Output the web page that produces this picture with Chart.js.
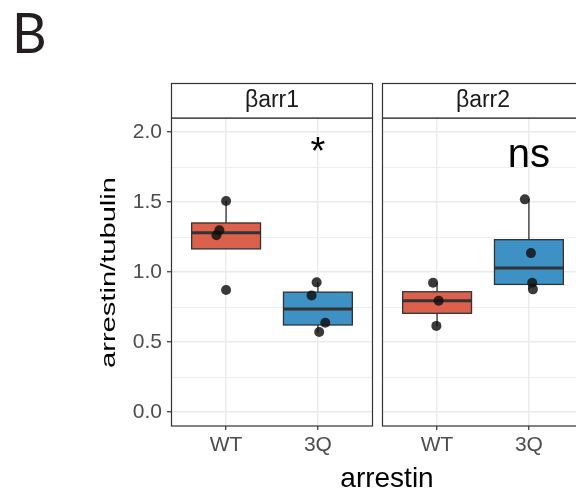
<!DOCTYPE html>
<html>
<head>
<meta charset="utf-8">
<script src="https://cdn.jsdelivr.net/npm/chart.js@4.4.1/dist/chart.umd.min.js"></script>
<style>
html, body { margin: 0; padding: 0; width: 576px; height: 491px; overflow: hidden; background: #fff; }
#wrap { position: relative; width: 576px; height: 491px; overflow: hidden; }
#c1 { position: absolute; left: 0; top: 0; }
#c2 { position: absolute; left: 376px; top: 0; }
#tag { position: absolute; left: 12px; top: 3px; font: 57px Lato, sans-serif; line-height: 57px; color: #231F20; transform: scaleX(0.94); transform-origin: left top; }
#xtitle { position: absolute; left: 287px; width: 200px; top: 464px; text-align: center; font: 28px "Liberation Sans", Arial, sans-serif; line-height: 28px; color: #000; }
</style>
</head>
<body>
<div id="wrap">
  <div id="tag">B</div>
  <canvas id="c1" width="380" height="491"></canvas>
  <canvas id="c2" width="216" height="491"></canvas>
  <div id="xtitle">arrestin</div>
</div>
<script>
// data
const categories = ['WT', '3Q'];
const panelNames = ['βarr1', 'βarr2'];

const arr1WT = [1.507, 1.298, 1.263, 0.871];
const arr1Q3 = [0.926, 0.833, 0.638, 0.572];
const arr2WT = [0.923, 0.795, 0.615];
const arr2Q3 = [1.519, 1.135, 0.923, 0.876];

// jitter van de punten (in categorie-eenheden)
const arr1WTjit = [0.0, -0.073, -0.105, 0.0];
const arr1Q3jit = [-0.014, -0.069, 0.08, 0.014];
const arr2WTjit = [-0.044, 0.017, -0.008];
const arr2Q3jit = [-0.044, 0.022, 0.036, 0.044];

const yMajor = [0, 0.5, 1.0, 1.5, 2.0];
const yMinor = [0.25, 0.75, 1.25, 1.75];
const sigLabels = ['*', 'ns'];
const sigY = [1.77, 1.75];

const boxColors = ['#DB614D', '#3D91C5'];

Chart.defaults.font.family = '"Liberation Sans", Arial, sans-serif';

function quant(s, p) {
    const h = (s.length - 1) * p;
    const lo = Math.floor(h);
    const hi = Math.min(lo + 1, s.length - 1);
    return s[lo] + (h - lo) * (s[hi] - s[lo]);
}

function boxStats(vals) {
    const s = [...vals].sort((a, b) => a - b);
    const q1 = quant(s, 0.25), med = quant(s, 0.5), q3 = quant(s, 0.75);
    const iqr = q3 - q1;
    const inside = s.filter(v => v >= q1 - 1.5 * iqr && v <= q3 + 1.5 * iqr);
    return { q1, med, q3, lo: inside[0], hi: inside[inside.length - 1] };
}

const panelPlugin = {
    id: 'panel',
    beforeDatasetsDraw(chart) {
        const { ctx, scales: { x, y } } = chart;
        const groups = chart.options.plugins.panel.groups;
        groups.forEach((vals, i) => {
            const st = boxStats(vals);
            const xc = x.getPixelForValue(i + 1);
            const xl = x.getPixelForValue(i + 1 - 0.375);
            const xr = x.getPixelForValue(i + 1 + 0.375);
            ctx.save();
            ctx.strokeStyle = '#333333';
            ctx.lineWidth = 1.3;
            ctx.beginPath();
            ctx.moveTo(xc, y.getPixelForValue(st.q3));
            ctx.lineTo(xc, y.getPixelForValue(st.hi));
            ctx.moveTo(xc, y.getPixelForValue(st.q1));
            ctx.lineTo(xc, y.getPixelForValue(st.lo));
            ctx.stroke();
            const yt = y.getPixelForValue(st.q3), yb = y.getPixelForValue(st.q1);
            ctx.fillStyle = boxColors[i];
            ctx.fillRect(xl, yt, xr - xl, yb - yt);
            ctx.strokeRect(xl, yt, xr - xl, yb - yt);
            ctx.lineWidth = 3;
            const ym = y.getPixelForValue(st.med);
            ctx.beginPath();
            ctx.moveTo(xl, ym);
            ctx.lineTo(xr, ym);
            ctx.stroke();
            ctx.restore();
        });
    },
    afterDraw(chart) {
        const { ctx, chartArea: a, scales: { x, y } } = chart;
        const o = chart.options.plugins.panel;
        ctx.save();
        // significantie label
        ctx.fillStyle = '#000';
        ctx.textAlign = 'center';
        ctx.textBaseline = 'alphabetic';
        ctx.font = (o.index === 0 ? '38px' : '40px') + ' "Liberation Sans", Arial, sans-serif';
        ctx.fillText(sigLabels[o.index], x.getPixelForValue(2), y.getPixelForValue(sigY[o.index]));
        // paneelrand
        ctx.strokeStyle = '#333333';
        ctx.lineWidth = 1.2;
        ctx.strokeRect(a.left + 0.5, a.top, a.right - a.left - 1, a.bottom - a.top);
        // strip
        ctx.fillStyle = '#fff';
        ctx.fillRect(a.left + 0.5, 83.5, a.right - a.left - 1, a.top - 83.5);
        ctx.strokeRect(a.left + 0.5, 83.5, a.right - a.left - 1, a.top - 83.5);
        ctx.fillStyle = '#1A1A1A';
        ctx.font = '23px "Liberation Sans", Arial, sans-serif';
        ctx.textBaseline = 'middle';
        ctx.fillText(panelNames[o.index], (a.left + a.right) / 2, 101);
        // y-as titel
        if (o.index === 0) {
            ctx.translate(115, 272.5);
            ctx.rotate(-Math.PI / 2);
            ctx.scale(1.42, 1);
            ctx.fillStyle = '#000';
            ctx.textBaseline = 'alphabetic';
            ctx.font = '20.5px "Liberation Sans", Arial, sans-serif';
            ctx.fillText('arrestin/tubulin', 0, 0);
        }
        ctx.restore();
    }
};

function makeChart(id, index, wt, wtJit, q3, q3Jit, padding) {
    const pts = wt.map((v, i) => ({ x: 1 + wtJit[i], y: v }))
        .concat(q3.map((v, i) => ({ x: 2 + q3Jit[i], y: v })));
    const showY = index === 0;
    return new Chart(document.getElementById(id), {
        type: 'scatter',
        data: {
            datasets: [{
                data: pts,
                backgroundColor: 'rgba(15,15,15,0.82)',
                borderWidth: 0,
                pointRadius: 5
            }]
        },
        options: {
            responsive: false,
            animation: false,
            layout: { padding: padding },
            plugins: {
                legend: { display: false },
                tooltip: { enabled: false },
                panel: { index: index, groups: [wt, q3] }
            },
            scales: {
                x: {
                    type: 'linear',
                    min: 0.4,
                    max: 2.6,
                    afterBuildTicks: s => { s.ticks = [{ value: 1 }, { value: 2 }]; },
                    afterFit: s => { s.height = 40; },
                    ticks: {
                        callback: v => categories[v - 1],
                        font: { size: 21 },
                        color: '#4D4D4D',
                        padding: 3,
                        maxRotation: 0
                    },
                    grid: { color: '#EBEBEB', lineWidth: 1.5, tickLength: 4, tickColor: '#333333', tickWidth: 1.2 },
                    border: { display: false }
                },
                y: {
                    min: -0.1,
                    max: 2.1,
                    afterBuildTicks: s => {
                        s.ticks = [...yMajor, ...yMinor].sort((a, b) => a - b).map(v => ({ value: v }));
                    },
                    afterFit: s => { s.width = showY ? 171 : 0; },
                    ticks: {
                        display: showY,
                        callback: v => yMajor.includes(v) ? v.toFixed(1) : '',
                        font: { size: 21 },
                        color: '#4D4D4D',
                        padding: 5,
                        autoSkip: false
                    },
                    grid: {
                        color: '#EBEBEB',
                        lineWidth: c => yMajor.includes(c.tick.value) ? 1.5 : 0.8,
                        drawTicks: showY,
                        tickLength: 4,
                        tickWidth: 1.2,
                        tickColor: c => yMajor.includes(c.tick.value) ? '#333333' : 'rgba(0,0,0,0)'
                    },
                    border: { display: false }
                }
            }
        },
        plugins: [panelPlugin]
    });
}

makeChart('c1', 0, arr1WT, arr1WTjit, arr1Q3, arr1Q3jit, { left: 0, right: 7, top: 118, bottom: 25 });
makeChart('c2', 1, arr2WT, arr2WTjit, arr2Q3, arr2Q3jit, { left: 6, right: 8, top: 118, bottom: 25 });
</script>
</body>
</html>
